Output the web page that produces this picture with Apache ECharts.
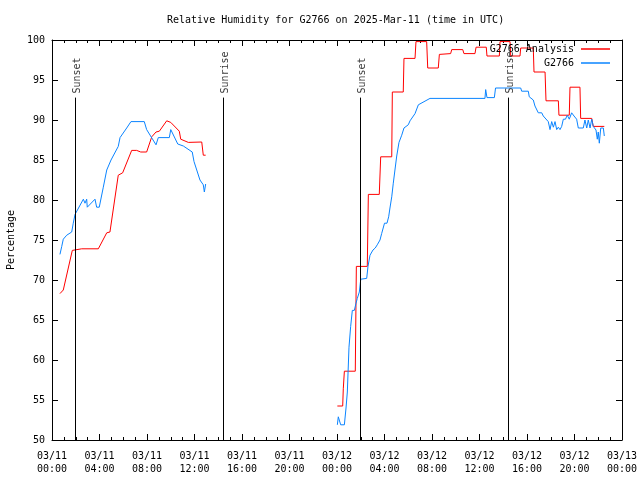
<!DOCTYPE html>
<html><head><meta charset="utf-8">
<script src="https://cdn.jsdelivr.net/npm/echarts@6/dist/echarts.min.js"></script>
<style>html,body{margin:0;padding:0;background:#fff}#c{width:640px;height:480px}</style>
</head><body><div id="c"></div>
<script>
// Hours since 2025-03-11 00:00 UTC
const analysisTimes1 = [0.67,0.95,1.71,2.50,3.90,4.61,4.88,5.58,5.95,6.71,7.13,7.47,7.97,8.40,8.76,9.04,9.66,10.00,10.72,10.84,11.48,12.61,12.74,12.94];
const analysisVals1  = [68.3,68.75,73.7,73.9,73.9,75.9,76.0,83.1,83.4,86.2,86.2,86.0,86.0,87.9,88.5,88.6,89.9,89.7,88.6,87.6,87.2,87.25,85.6,85.6];
const analysisTimes2 = [24.03,24.48,24.53,24.62,25.54,25.63,26.55,26.64,27.56,27.68,28.61,28.66,29.58,29.64,30.57,30.65,31.55,31.64,32.53,32.62,33.57,33.66,34.59,34.69,35.62,35.71,36.57,36.63,37.67,37.73,38.57,38.63,39.41,39.47,40.53,40.59,41.52,41.60,42.64,42.69,43.56,43.62,44.46,44.52,45.45,45.58,46.51];
const analysisVals2  = [54.25,54.25,56.4,58.6,58.6,71.7,71.7,80.7,80.7,85.4,85.4,93.5,93.5,97.7,97.7,99.8,99.8,96.5,96.5,98.2,98.3,98.8,98.8,98.3,98.3,99.1,99.1,98.0,98.0,99.8,99.8,98.0,98.0,99.0,99.0,96.0,96.0,92.4,92.4,90.6,90.6,94.1,94.1,90.2,90.2,89.2,89.2];

const obsTimes1 = [0.67,0.82,0.95,1.24,1.66,1.79,1.94,2.64,2.78,2.92,2.97,3.62,3.76,3.98,4.32,4.61,4.97,5.58,5.73,6.29,6.65,7.77,7.97,8.76,8.90,8.95,9.88,10.00,10.59,11.06,11.81,11.96,12.46,12.74,12.83,12.94];
const obsVals1  = [73.2,74.2,75.1,75.6,76.0,77.1,78.2,80.1,79.6,80.1,79.1,80.1,79.1,79.1,81.6,83.75,85.0,86.7,87.8,89.0,89.8,89.8,88.8,86.9,86.9,87.8,87.8,88.8,87.0,86.75,86.0,84.8,82.5,81.9,81.0,82.0];
const obsTimes2 = [24.03,24.11,24.19,24.31,24.62,24.76,24.87,25.01,25.15,25.29,25.46,25.60,25.71,25.88,26.00,26.50,26.61,26.78,27.03,27.22,27.39,27.62,27.76,28.00,28.21,28.35,28.46,28.61,28.74,28.88,29.03,29.22,29.45,29.64,30.00,30.15,30.57,30.85,31.83,36.46,36.52,36.63,37.25,37.35,39.47,39.55,40.11,40.19,40.53,40.67,40.95,41.24,41.37,41.79,41.94,42.08,42.22,42.36,42.50,42.64,42.78,42.92,43.06,43.24,43.39,43.56,43.76,43.96,44.18,44.32,44.74,44.88,45.03,45.16,45.31,45.45,45.58,45.81,45.92,46.00,46.09,46.21,46.43,46.51];
const obsVals2  = [51.9,52.9,52.9,51.9,51.9,54.0,56.0,61.6,64.2,66.2,66.2,67.1,67.7,68.5,70.1,70.2,71.7,73.1,73.75,74.0,74.4,75.0,75.8,77.1,77.1,77.9,79.0,80.4,82.1,83.75,85.5,87.2,88.1,89.0,89.4,89.9,90.8,91.9,92.7,92.7,93.8,92.8,92.8,94.0,94.0,93.6,93.6,92.9,92.5,91.75,90.9,90.9,90.5,89.8,88.8,89.8,89.1,89.8,88.8,89.1,88.8,89.2,90.1,90.1,90.6,90.1,90.9,90.5,90.1,89.0,89.0,90.0,89.0,90.0,89.0,90.1,89.2,88.75,87.6,88.5,87.1,89.0,89.0,88.0];

const sunEventNames = ['Sunset','Sunrise','Sunset','Sunrise'];
const sunEventTimes = [1.94,14.40,25.94,38.40];

const xTickStep = 4, xMin = 0, xMax = 48;
const yMin = 50, yMax = 100, yStep = 5;

function pairs(t, v){ return t.map((x,i)=>[x, v[i]]); }
function joinGap(a, b){ return a.concat([[18, null]], b); }

const FONT = 'DejaVu Sans Mono';
const FS = 10;
function xLabel(h){
  const day = 11 + Math.floor(h/24);
  const hh = h % 24;
  return '03/' + String(day).padStart(2,'0') + '\n' + String(hh).padStart(2,'0') + ':00';
}

const chart = echarts.init(document.getElementById('c'), null, {renderer:'canvas'});
const axisCommon = {
  min: xMin, max: xMax, interval: xTickStep, type: 'value',
  axisLine: {show:true, onZero:false, lineStyle:{color:'#000', width:1}},
  axisTick: {show:true, inside:true, length:6, lineStyle:{color:'#000'}},
  minorTick: {show:true, splitNumber:4, length:3, lineStyle:{color:'#000'}},
  splitLine: {show:false}
};
const yCommon = {
  type:'value', min:yMin, max:yMax, interval:yStep,
  axisLine: {show:true, onZero:false, lineStyle:{color:'#000', width:1}},
  axisTick: {show:true, inside:true, length:6, lineStyle:{color:'#000'}},
  splitLine: {show:false}
};
chart.setOption({
  animation:false,
  backgroundColor:'#fff',
  title:{text:'Relative Humidity for G2766 on 2025-Mar-11 (time in UTC)', left:162, top:10,
    textStyle:{fontFamily:FONT, fontSize:FS, fontWeight:'normal', color:'#000'}},
  grid:{left:52, right:18, top:40, bottom:40, containLabel:false, outerBoundsMode:'none'},
  legend:[
    {data:['G2766 Analysis'], right:30, top:44, padding:0, orient:'vertical', align:'right', icon:'rect', itemWidth:29, itemHeight:1.5, itemGap:0,
      textStyle:{fontFamily:FONT, fontSize:FS, color:'#000', padding:[0,2,0,0]}},
    {data:['G2766'], right:30, top:58, padding:0, orient:'vertical', align:'right', icon:'rect', itemWidth:29, itemHeight:1.5, itemGap:0,
      textStyle:{fontFamily:FONT, fontSize:FS, color:'#000', padding:[0,2,0,0]}}
  ],
  xAxis:[
    Object.assign({}, axisCommon, {position:'bottom',
      axisLabel:{show:true, margin:10, fontFamily:FONT, fontSize:FS, color:'#000', lineHeight:13, formatter:xLabel}}),
    Object.assign({}, axisCommon, {position:'top', axisLabel:{show:false}})
  ],
  yAxis:[
    Object.assign({}, yCommon, {position:'left', name:'Percentage', nameLocation:'middle', nameGap:36,
      nameTextStyle:{fontFamily:FONT, fontSize:FS, color:'#000'},
      axisLabel:{show:true, margin:7, fontFamily:FONT, fontSize:FS, color:'#000'}}),
    Object.assign({}, yCommon, {position:'right', axisLabel:{show:false}})
  ],
  series:[
    {name:'G2766 Analysis', type:'line', data: joinGap(pairs(analysisTimes1, analysisVals1), pairs(analysisTimes2, analysisVals2)),
      showSymbol:false, connectNulls:false, lineStyle:{color:'#ff0000', width:1}, itemStyle:{color:'#ff0000'}, z:3},
    {name:'G2766', type:'line', data: joinGap(pairs(obsTimes1, obsVals1), pairs(obsTimes2, obsVals2)),
      showSymbol:false, connectNulls:false, lineStyle:{color:'#0a84ff', width:1}, itemStyle:{color:'#0a84ff'}, z:3},
    {name:'sun', type:'line', data:[], silent:true,
      markLine:{silent:true, symbol:['none','none'], label:{show:false}, animation:false,
        lineStyle:{color:'#000', width:1, type:'solid'},
        data: sunEventTimes.map(t => [{coord:[t, yMin]}, {coord:[t, 92.8]}])}, z:4},
    {name:'sunLabels', type:'scatter', symbolSize:0, silent:true,
      data: sunEventTimes.map((t,i)=>({value:[t, 93.3], name:sunEventNames[i]})),
      label:{show:true, formatter:'{b}', rotate:90, position:[2,0], align:'left', verticalAlign:'middle',
        fontFamily:FONT, fontSize:FS, color:'#000'}, z:5}
  ]
});
</script></body></html>
